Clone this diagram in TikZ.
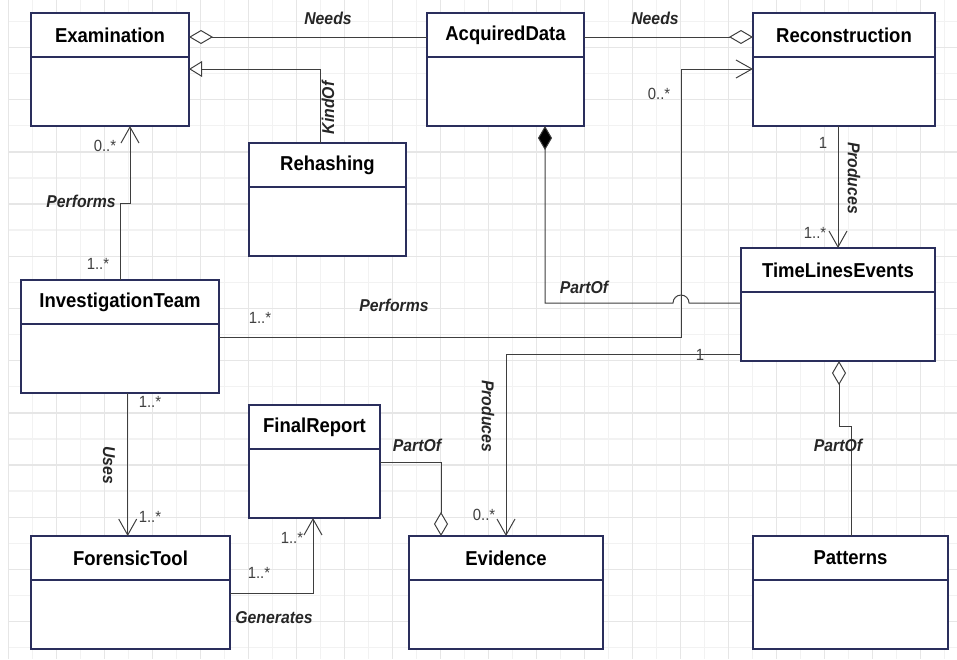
\documentclass[tikz,border=0pt]{standalone}
\usepackage{fontspec}
\setmainfont{Liberation Sans}[FakeStretch=0.92]
\usetikzlibrary{positioning,arrows.meta}

\definecolor{boxline}{RGB}{42,46,92}
\definecolor{wirecol}{RGB}{62,62,62}
\definecolor{gridlo}{RGB}{242,242,242}
\definecolor{gridhi}{RGB}{230,230,230}

\tikzset{
  head/.style={draw=boxline, line width=0.9pt, fill=white, minimum height=1.1cm,
    inner sep=0pt, outer sep=0pt, font=\fontsize{14.3}{16}\selectfont\bfseries},
  body/.style={draw=boxline, line width=0.9pt, fill=white, minimum height=1.725cm,
    inner sep=0pt, outer sep=0pt},
  role/.style={font=\fontsize{12.2}{14}\selectfont\bfseries\itshape, text=black!85, inner sep=0pt},
  mult/.style={font=\fontsize{11.5}{13}\selectfont, text=black!75, inner sep=0pt},
  wire/.style={draw=wirecol, line width=0.7pt},
  assoc/.style={wire, -{Straight Barb[length=0.4cm, width=0.45cm]}},
  aggstart/.style={wire, {Diamond[fill=white, length=0.6cm, width=0.35cm]}-},
  aggend/.style={wire, -{Diamond[fill=white, length=0.6cm, width=0.35cm]}},
  compend/.style={wire, -{Diamond[fill=black, length=0.6cm, width=0.35cm]}},
  kindof/.style={wire, -{Triangle[fill=white, length=0.33cm, width=0.4cm]}}
}

\begin{document}
\begin{tikzpicture}[x=0.025cm, y=-0.025cm]
    \useasboundingbox (0,0) rectangle (957,659);

    % grid
    \foreach \gx in {32.3,80.3,...,957} \draw[gridlo, line width=1pt] (\gx,0) -- (\gx,659);
    \foreach \gy in {21.3,73.5,...,659} \draw[gridlo, line width=1pt] (8.3,\gy) -- (957,\gy);
    \foreach \gx in {8.3,56.3,...,957} \draw[gridhi, line width=1pt] (\gx,0) -- (\gx,659);
    \foreach \gy in {47.4,99.6,...,659} \draw[gridhi, line width=1pt] (8.3,\gy) -- (957,\gy);

    % classes
    \node (exam) [head, minimum width=3.95cm] at (110,35) {Examination};
    \node (examb) [body, minimum width=3.95cm, below=0pt of exam] {};
    \node (acq) [head, minimum width=3.925cm] at (505.5,35) {AcquiredData};
    \node (acqb) [body, minimum width=3.925cm, below=0pt of acq] {};
    \node (recon) [head, minimum width=4.55cm] at (844,35) {Reconstruction};
    \node (reconb) [body, minimum width=4.55cm, below=0pt of recon] {};
    \node (rehash) [head, minimum width=3.925cm] at (327.5,165) {Rehashing};
    \node (rehashb) [body, minimum width=3.925cm, below=0pt of rehash] {};
    \node (team) [head, minimum width=4.95cm] at (120,302) {InvestigationTeam};
    \node (teamb) [body, minimum width=4.95cm, below=0pt of team] {};
    \node (tle) [head, minimum width=4.85cm] at (838,270) {TimeLinesEvents};
    \node (tleb) [body, minimum width=4.85cm, below=0pt of tle] {};
    \node (report) [head, minimum width=3.275cm] at (314.5,427) {FinalReport};
    \node (reportb) [body, minimum width=3.275cm, below=0pt of report] {};
    \node (tool) [head, minimum width=4.975cm] at (130.5,558) {ForensicTool};
    \node (toolb) [body, minimum width=4.975cm, below=0pt of tool] {};
    \node (evid) [head, minimum width=4.85cm] at (506,558) {Evidence};
    \node (evidb) [body, minimum width=4.85cm, below=0pt of evid] {};
    \node (pattern) [head, minimum width=4.875cm] at (850.5,558) {Patterns};
    \node (patternb) [body, minimum width=4.875cm, below=0pt of pattern] {};

    % connectors
    \draw[aggstart] (exam.east |- 0,37) -- (acq.west |- 0,37);
    \draw[aggend] (acq.east |- 0,37) -- (recon.west |- 0,37);
    \draw[kindof] (320,0 |- rehash.north) -- (320,69) -- (examb.east |- 0,69);
    \draw[assoc] (120.7,0 |- team.north) -- (120.7,203) -- (130,203) -- (130,0 |- examb.south);
    \draw[assoc] (teamb.east |- 0,337) -- (681,337) -- (681,69) -- (reconb.west |- 0,69);
    \draw[compend] (tleb.west |- 0,303) -- (689,303) arc (0:180:0.2cm) -- (545,303) -- (545,0 |- acqb.south);
    \draw[assoc] (838,0 |- reconb.south) -- (838,0 |- tle.north);
    \draw[assoc] (tleb.west |- 0,354) -- (506,354) -- (506,0 |- evid.north);
    \draw[assoc] (127.7,0 |- teamb.south) -- (127.7,0 |- tool.north);
    \draw[assoc] (toolb.east |- 0,593) -- (313,593) -- (313,0 |- reportb.south);
    \draw[aggend] (reportb.east |- 0,462) -- (441,462) -- (441,0 |- evid.north);
    \draw[aggend] (851,0 |- pattern.north) -- (851,426) -- (839,426) -- (839,0 |- tleb.south);

    % association names
    \node (needs1) [role] at (328,18) {Needs};
    \node (needs2) [role] at (655,18) {Needs};
    \node (kind) [role, rotate=90] at (328,108) {KindOf};
    \node (perf1) [role] at (81,201) {Performs};
    \node (perf2) [role] at (394,305) {Performs};
    \node (part1) [role] at (584,287) {PartOf};
    \node (prod1) [role, rotate=-90] at (854,178) {Produces};
    \node (prod2) [role, rotate=-90] at (488,416) {Produces};
    \node (uses) [role, rotate=-90] at (109,465) {Uses};
    \node (gen) [role] at (274,618) {Generates};
    \node (part2) [role] at (417,445) {PartOf};
    \node (part3) [role] at (838,445) {PartOf};

    % multiplicities
    \node (m1) [mult] at (105,146) {0..*};
    \node (m2) [mult] at (98,264) {1..*};
    \node (m3) [mult] at (260,318) {1..*};
    \node (m4) [mult] at (659,94) {0..*};
    \node (m5) [mult] at (823,143) {1};
    \node (m6) [mult] at (815,233) {1..*};
    \node (m7) [mult] at (700,355) {1};
    \node (m8) [mult] at (484,515) {0..*};
    \node (m9) [mult] at (150,402) {1..*};
    \node (m10) [mult] at (150,517) {1..*};
    \node (m11) [mult] at (259,573) {1..*};
    \node (m12) [mult] at (292,538) {1..*};
\end{tikzpicture}
\end{document}
